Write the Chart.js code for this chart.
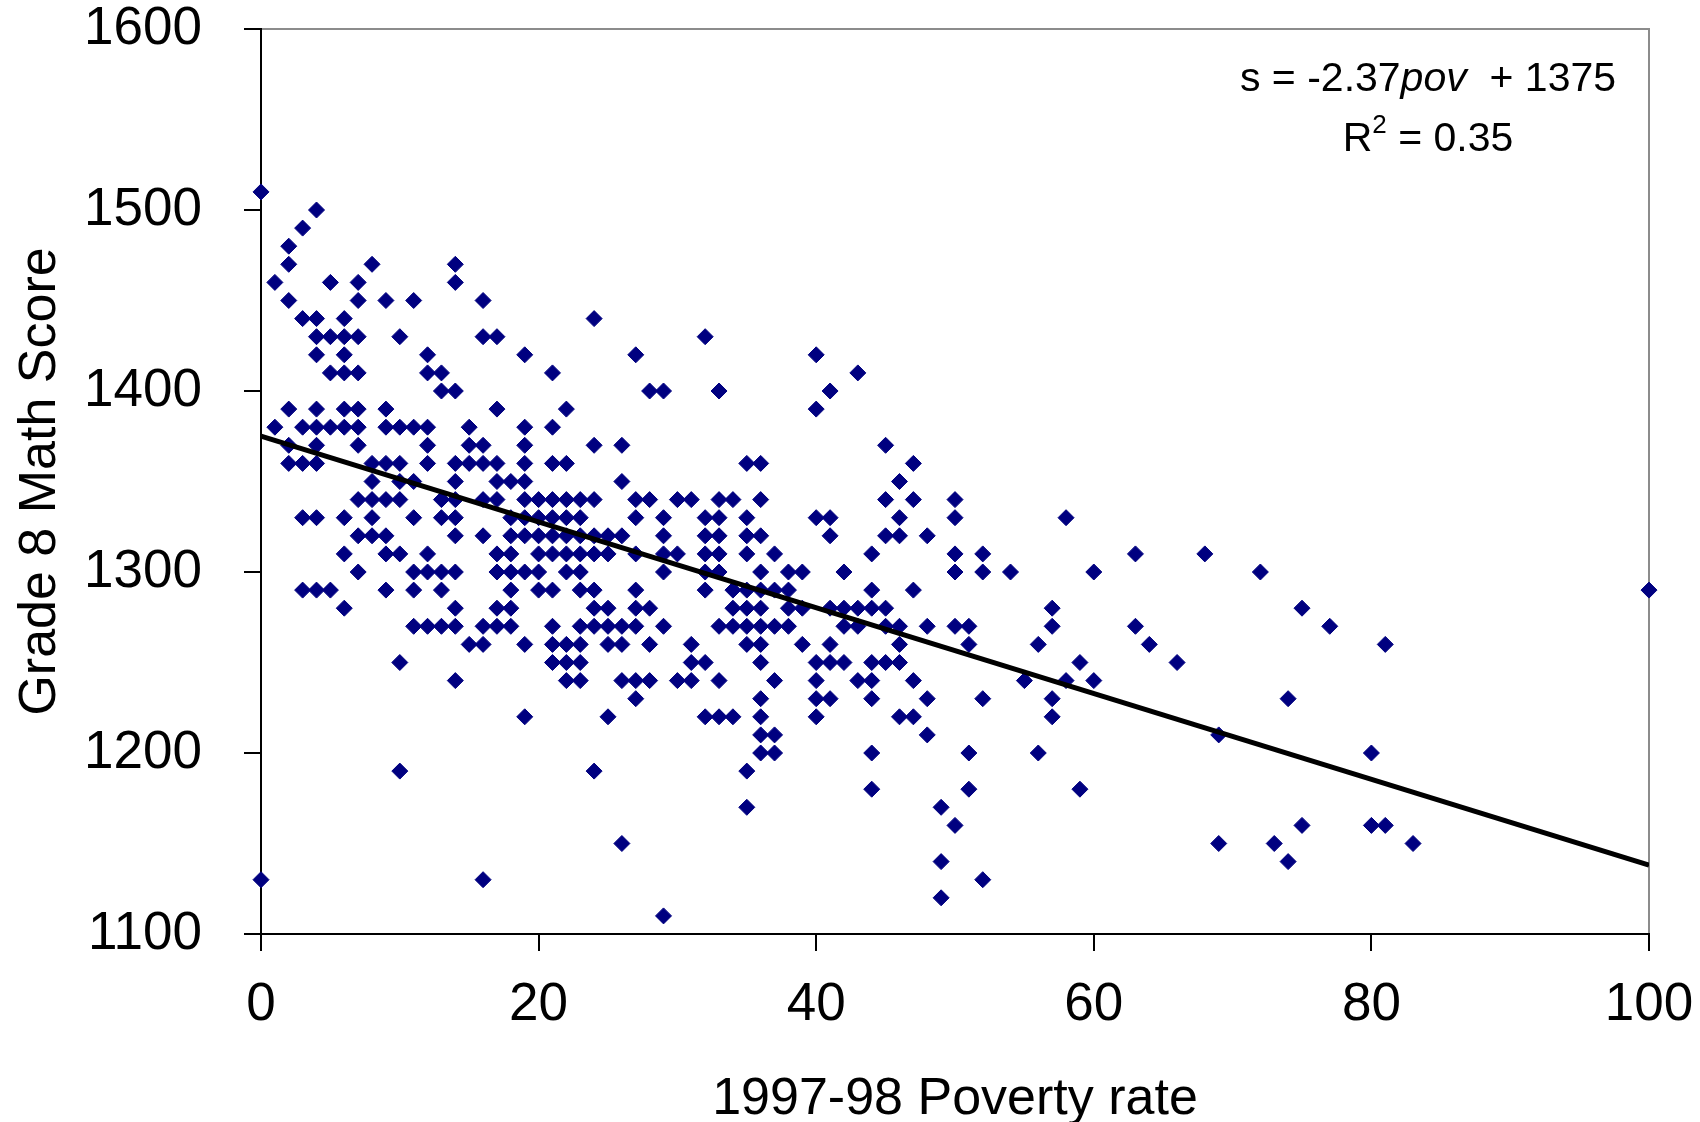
<!DOCTYPE html>
<html>
<head>
<meta charset="utf-8">
<title>Grade 8 Math Score vs Poverty rate</title>
<script src="https://cdn.jsdelivr.net/npm/chart.js@4.4.0/dist/chart.umd.min.js"></script>
<style>
  html, body { margin: 0; padding: 0; background: #fff; }
  #wrap { width: 1700px; height: 1122px; }
</style>
</head>
<body>
<div id="wrap"><canvas id="scoreChart"></canvas></div>
<script>
// Score levels (y), and the poverty rates (x) of the schools found at each level
const scoreLevels = [1510, 1500, 1490, 1480, 1470, 1460, 1450, 1440, 1430, 1420,
    1410, 1400, 1390, 1380, 1370, 1360, 1350, 1340, 1330, 1320, 1310, 1300, 1290,
    1280, 1270, 1260, 1250, 1240, 1230, 1220, 1210, 1200, 1190, 1180, 1170, 1160,
    1150, 1140, 1130, 1120, 1110];

const povertyAtLevel = [
    [0],
    [4],
    [3],
    [2],
    [2, 8, 14],
    [1, 5, 7, 14],
    [2, 7, 9, 11, 16],
    [3, 4, 6, 24],
    [4, 5, 6, 7, 10, 16, 17, 32],
    [4, 6, 12, 19, 27, 40],
    [5, 6, 7, 12, 13, 21, 43],
    [13, 14, 28, 29, 33, 41],
    [2, 4, 6, 7, 9, 17, 22, 40],
    [1, 3, 4, 5, 6, 7, 9, 10, 11, 12, 15, 19, 21],
    [2, 4, 7, 12, 15, 16, 19, 24, 26, 45],
    [2, 3, 4, 8, 9, 10, 12, 14, 15, 16, 17, 19, 21, 22, 35, 36, 47],
    [8, 10, 11, 14, 17, 18, 19, 26, 46],
    [7, 8, 9, 10, 13, 14, 16, 17, 19, 20, 21, 22, 23, 24, 27, 28, 30, 31, 33, 34, 36, 45, 47, 50],
    [3, 4, 6, 8, 11, 13, 14, 18, 19, 20, 21, 22, 23, 27, 29, 32, 33, 35, 40, 41, 46, 50, 58],
    [7, 8, 9, 14, 16, 18, 19, 20, 21, 22, 23, 24, 25, 26, 29, 32, 33, 35, 36, 41, 45, 46, 48],
    [6, 9, 10, 12, 17, 18, 20, 21, 22, 23, 24, 25, 27, 29, 30, 32, 33, 35, 37, 44, 50, 52, 63, 68],
    [7, 11, 12, 13, 14, 17, 18, 19, 20, 22, 23, 29, 32, 33, 36, 38, 39, 42, 50, 52, 54, 60, 72],
    [3, 4, 5, 9, 11, 13, 18, 20, 21, 23, 24, 27, 32, 34, 35, 36, 37, 38, 44, 47, 100],
    [6, 14, 17, 18, 24, 25, 27, 28, 34, 35, 36, 38, 39, 41, 42, 43, 44, 45, 57, 75],
    [11, 12, 13, 14, 16, 17, 18, 21, 23, 24, 25, 26, 27, 29, 33, 34, 35, 36, 37, 38, 42, 43, 45, 46, 48, 50, 51, 57, 63, 77],
    [15, 16, 19, 21, 22, 23, 25, 26, 28, 31, 35, 36, 39, 41, 46, 51, 56, 64, 81],
    [10, 21, 22, 23, 31, 32, 36, 40, 41, 42, 44, 45, 46, 59, 66],
    [14, 22, 23, 26, 27, 28, 30, 31, 33, 37, 40, 43, 44, 47, 55, 58, 60],
    [27, 36, 40, 41, 44, 48, 52, 57, 74],
    [19, 25, 32, 33, 34, 36, 40, 46, 47, 57],
    [36, 37, 48, 69],
    [36, 37, 44, 51, 56, 80],
    [10, 24, 35],
    [44, 51, 59],
    [35, 49],
    [50, 75, 80, 81],
    [26, 69, 73, 83],
    [49, 74],
    [0, 16, 52],
    [49],
    [29]
];

// fitted line s = -2.37 pov + 1375, end points
const trendX = [0, 100];
const trendY = [1375, 1138];

const equationText = ['s = -2.37', 'pov', '  + 1375'];
const rSquaredText = ['R', '2', ' = 0.35'];

const FONT = "'Liberation Sans', Arial, Helvetica, sans-serif";
const NAVY = '#000080';

const points = [];
scoreLevels.forEach(function (score, i) {
    povertyAtLevel[i].forEach(function (pov) {
        points.push({ x: pov, y: score });
    });
});

const trendPoints = trendX.map(function (x, i) { return { x: x, y: trendY[i] }; });

// grey frame round the plot area (axes are drawn over the left and bottom sides)
const plotFrame = {
    id: 'plotFrame',
    beforeDraw(chart) {
        const a = chart.chartArea;
        const ctx = chart.ctx;
        ctx.save();
        ctx.strokeStyle = '#8c8c8c';
        ctx.lineWidth = 2;
        ctx.strokeRect(a.left, a.top, a.right - a.left, a.bottom - a.top);
        ctx.restore();
    }
};

// regression equation and R squared, top right
const equationLabel = {
    id: 'equationLabel',
    afterDatasetsDraw(chart) {
        const ctx = chart.ctx;
        const cx = 1428;
        ctx.save();
        ctx.fillStyle = '#000';
        ctx.textBaseline = 'middle';
        ctx.textAlign = 'left';

        const normal = '41px ' + FONT;
        const italic = 'italic 41px ' + FONT;
        ctx.font = normal;
        const w0 = ctx.measureText(equationText[0]).width;
        const w2 = ctx.measureText(equationText[2]).width;
        ctx.font = italic;
        const w1 = ctx.measureText(equationText[1]).width;
        let x = cx - (w0 + w1 + w2) / 2;
        const y1 = 80;
        ctx.font = normal;
        ctx.fillText(equationText[0], x, y1);
        x += w0;
        ctx.font = italic;
        ctx.fillText(equationText[1], x, y1);
        x += w1;
        ctx.font = normal;
        ctx.fillText(equationText[2], x, y1);

        const sup = '26px ' + FONT;
        ctx.font = normal;
        const r0 = ctx.measureText(rSquaredText[0]).width;
        const r2 = ctx.measureText(rSquaredText[2]).width;
        ctx.font = sup;
        const r1 = ctx.measureText(rSquaredText[1]).width;
        x = cx - (r0 + r1 + r2) / 2;
        const y2 = 140;
        ctx.font = normal;
        ctx.fillText(rSquaredText[0], x, y2);
        x += r0;
        ctx.font = sup;
        ctx.fillText(rSquaredText[1], x, y2 - 14);
        x += r1;
        ctx.font = normal;
        ctx.fillText(rSquaredText[2], x, y2);
        ctx.restore();
    }
};

// keep the label overflow from pushing the plot area in
function fixX(scale) {
    scale.height = 188;
    scale.paddingLeft = 0;
    scale.paddingRight = 0;
}
function fixY(scale) {
    scale.width = 261;
    scale.paddingTop = 0;
    scale.paddingBottom = 0;
}

const ctx = document.getElementById('scoreChart').getContext('2d');

new Chart(ctx, {
    type: 'scatter',
    data: {
        datasets: [{
            type: 'line',
            label: 'Trend',
            data: trendPoints,
            borderColor: '#000',
            borderWidth: 5,
            pointRadius: 0,
            fill: false,
            order: 0
        }, {
            label: 'Schools',
            data: points,
            pointStyle: 'rectRot',
            pointRadius: 8,
            pointBorderWidth: 1,
            pointBackgroundColor: NAVY,
            pointBorderColor: NAVY,
            clip: false,
            order: 1
        }]
    },
    options: {
        responsive: true,
        maintainAspectRatio: false,
        animation: false,
        devicePixelRatio: 1,
        layout: {
            autoPadding: false,
            padding: { top: 29, right: 51, left: 0, bottom: 0 }
        },
        plugins: {
            legend: { display: false },
            tooltip: { enabled: false }
        },
        scales: {
            x: {
                type: 'linear',
                min: 0,
                max: 100,
                ticks: {
                    stepSize: 20,
                    padding: 28,
                    color: '#000',
                    font: { family: FONT, size: 53, lineHeight: 1 },
                    callback: function (v) { return String(v); }
                },
                grid: { drawOnChartArea: false, drawTicks: true, tickLength: 17, color: '#000', lineWidth: 2 },
                border: { display: true, color: '#000', width: 2 },
                title: {
                    display: true,
                    text: '1997-98 Poverty rate',
                    color: '#000',
                    font: { family: FONT, size: 52, lineHeight: 0.85 },
                    padding: { top: 0, bottom: 0 }
                },
                afterFit: fixX
            },
            y: {
                min: 1100,
                max: 1600,
                ticks: {
                    stepSize: 100,
                    padding: 42,
                    color: '#000',
                    font: { family: FONT, size: 53, lineHeight: 1 },
                    callback: function (v) { return String(v); }
                },
                grid: { drawOnChartArea: false, drawTicks: true, tickLength: 17, color: '#000', lineWidth: 2 },
                border: { display: true, color: '#000', width: 2 },
                title: {
                    display: true,
                    text: 'Grade 8 Math Score',
                    color: '#000',
                    font: { family: FONT, size: 52, lineHeight: 1 },
                    padding: { top: 15, bottom: 0 }
                },
                afterFit: fixY
            }
        }
    },
    plugins: [plotFrame, equationLabel]
});
</script>
</body>
</html>
